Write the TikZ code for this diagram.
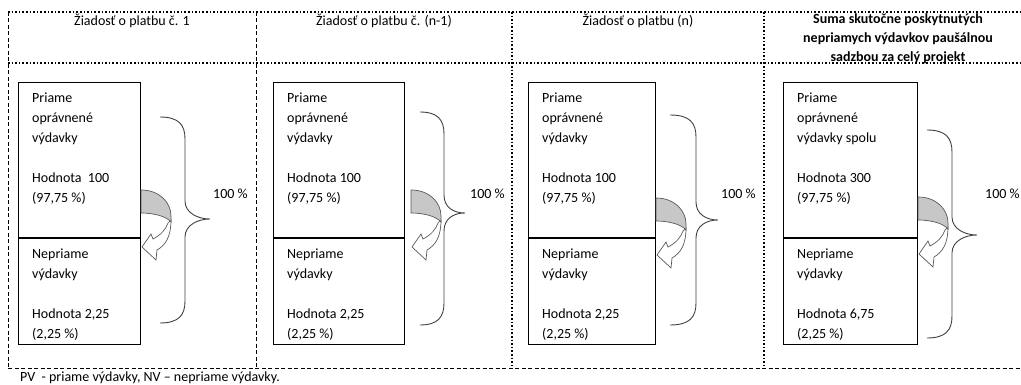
\documentclass[tikz,border=0pt]{standalone}
\usepackage{fontspec}
\setmainfont{Carlito}
\usetikzlibrary{positioning}

% zlozena zatvorka: xL, xM, xT, hore, hrot, dole
\newcommand{\zatvorka}[6]{%
  \draw[zatv] (#1,#4) .. controls (#2-6,#4) and (#2,#4+8) .. (#2,#4+22)
    -- (#2,#5-18) .. controls (#2,#5-6) and (#3-12,#5) .. (#3,#5)
    .. controls (#3-12,#5) and (#2,#5+6) .. (#2,#5+18)
    -- (#2,#6-22) .. controls (#2,#6-8) and (#2-6,#6) .. (#1,#6);}

\begin{document}
\begin{tikzpicture}[x=1pt, y=-1pt,
    every node/.style={inner sep=0pt, font=\fontsize{14}{20}\selectfont},
    hlavicka/.style={anchor=north, align=center, font=\fontsize{14}{19}\selectfont},
    pvbox/.style={draw, line width=0.8pt, anchor=north west, minimum height=155},
    nvbox/.style={draw, line width=0.8pt, anchor=north west, minimum height=106},
    popis/.style={anchor=north west, align=left},
    bodky/.style={line width=1.3pt, dash pattern=on 1.6pt off 2pt},
    ciarky/.style={line width=0.8pt, dash pattern=on 4pt off 2.5pt},
    zatv/.style={line width=0.9pt, draw=black!75},
    pics/zatocka/.style={code={
      \filldraw[fill=white, draw=black!65, line width=0.7pt] (30,30) .. controls (30,46) and (25,55) .. (16,60)
        -- (15,70) -- (1,57) -- (10,44) -- (12,49) .. controls (20,45) and (25,39) .. (27,33) -- cycle;
      \filldraw[fill=black!22, draw=black!65, line width=0.7pt] (0,0) .. controls (18,0) and (30,12) .. (30,26)
        -- (30,32) .. controls (25,26) and (12,23) .. (0,23) -- cycle;
    }}]
  \useasboundingbox (0,0) rectangle (1021,385);

  % ramec
  \draw[bodky] (8,12) -- (1040,12);
  \draw[bodky] (8,63) -- (1040,63);
  \draw[ciarky] (8,368) -- (1040,368);
  \draw[ciarky, line width=0.7pt] (8,12) -- (8,368);
  \draw[ciarky, line width=0.7pt] (256,12) -- (256,368);
  \draw[bodky] (512,12) -- (512,368);
  \draw[bodky] (764,12) -- (764,368);

  % hlavicky
  \node[hlavicka] (h1) at (132,14) {Žiadosť o platbu č. 1};
  \node[hlavicka] (h2) at (384,14) {Žiadosť o platbu č. (n-1)};
  \node[hlavicka] (h3) at (638,14) {Žiadosť o platbu (n)};
  \node[hlavicka, font=\fontsize{14}{19}\selectfont\bfseries] (h4) at (898,13)
    {Suma skutočne poskytnutých\\nepriamych výdavkov paušálnou\\sadzbou za celý projekt};

  % stlpec 1
  \node[pvbox, minimum width=122] (pv1) at (18,82) {};
  \node[nvbox, minimum width=122] (nv1) at (pv1.south west) {};
  \node[popis] (tp1) at ([xshift=14pt, yshift=-11pt]pv1.north west) {Priame\\oprávnené\\výdavky\\[20pt]Hodnota\ \ 100\\(97,75 \%)};
  \node[popis] (tn1) at ([xshift=14pt, yshift=-11pt]nv1.north west) {Nepriame\\výdavky\\[20pt]Hodnota 2,25\\(2,25 \%)};
  \pic at (141,190) {zatocka};
  \zatvorka{160}{185}{210}{117}{219}{323}
  \node[anchor=west] (s1) at (213,194) {100 \%};

  % stlpec 2
  \node[pvbox, minimum width=131] (pv2) at (273,82) {};
  \node[nvbox, minimum width=131] (nv2) at (pv2.south west) {};
  \node[popis] (tp2) at ([xshift=14pt, yshift=-11pt]pv2.north west) {Priame\\oprávnené\\výdavky\\[20pt]Hodnota 100\\(97,75 \%)};
  \node[popis] (tn2) at ([xshift=14pt, yshift=-11pt]nv2.north west) {Nepriame\\výdavky\\[20pt]Hodnota 2,25\\(2,25 \%)};
  \pic at (411,190) {zatocka};
  \zatvorka{420}{444}{465}{112}{213}{325}
  \node[anchor=west] (s2) at (470,194) {100 \%};

  % stlpec 3
  \node[pvbox, minimum width=127] (pv3) at (528,82) {};
  \node[nvbox, minimum width=127] (nv3) at (pv3.south west) {};
  \node[popis] (tp3) at ([xshift=14pt, yshift=-11pt]pv3.north west) {Priame\\oprávnené\\výdavky\\[20pt]Hodnota 100\\(97,75 \%)};
  \node[popis] (tn3) at ([xshift=14pt, yshift=-11pt]nv3.north west) {Nepriame\\výdavky\\[20pt]Hodnota 2,25\\(2,25 \%)};
  \pic at (656,198) {zatocka};
  \zatvorka{670}{696}{718}{115}{220}{325}
  \node[anchor=west] (s3) at (721,194) {100 \%};

  % stlpec 4
  \node[pvbox, minimum width=134] (pv4) at (783,82) {};
  \node[nvbox, minimum width=134] (nv4) at (pv4.south west) {};
  \node[popis] (tp4) at ([xshift=14pt, yshift=-11pt]pv4.north west) {Priame\\oprávnené\\výdavky spolu\\[20pt]Hodnota 300\\(97,75 \%)};
  \node[popis] (tn4) at ([xshift=14pt, yshift=-11pt]nv4.north west) {Nepriame\\výdavky\\[20pt]Hodnota 6,75\\(2,25 \%)};
  \pic at (918,197) {zatocka};
  \zatvorka{927}{952}{977}{130}{235}{338}
  \node[anchor=west] (s4) at (985,194) {100 \%};

  % poznamka
  \node[anchor=base west] (pozn) at (20,381) {PV\ \ - priame výdavky, NV – nepriame výdavky.};
\end{tikzpicture}
\end{document}
